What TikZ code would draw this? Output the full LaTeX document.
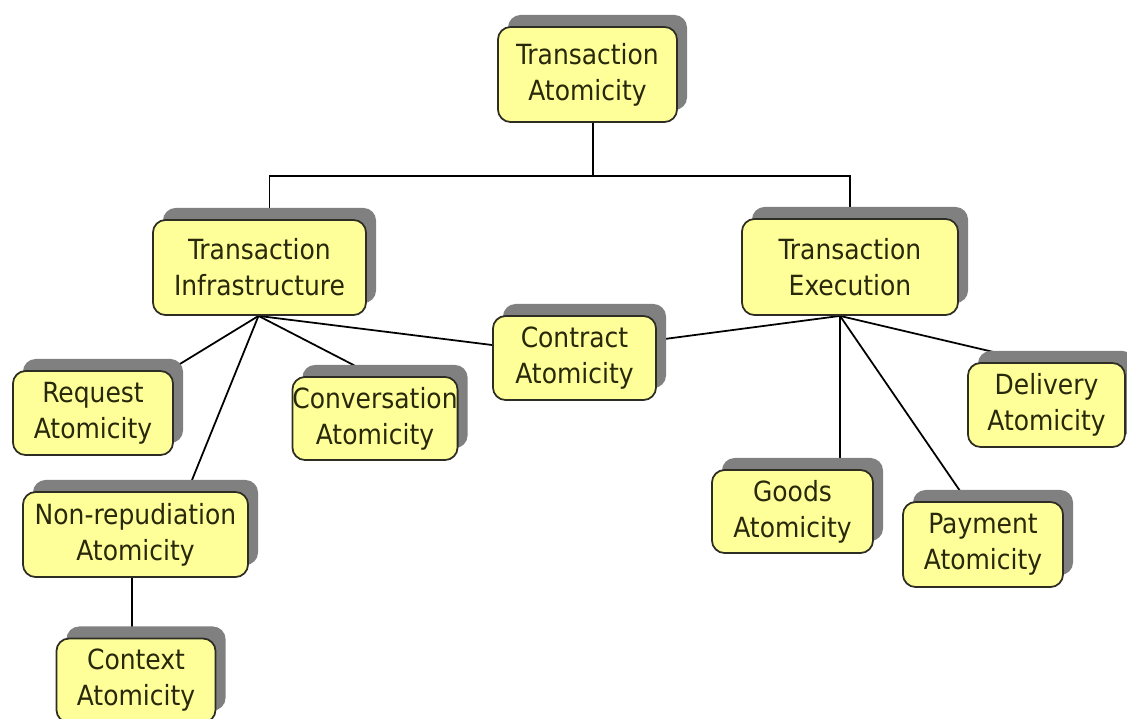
\documentclass[tikz,border=0pt]{standalone}
\usepackage{fontspec}
\newfontfamily\boxfont{DejaVu Sans Condensed}
\usetikzlibrary{shapes.misc,shadows,calc}
\pgfdeclarelayer{background}
\pgfsetlayers{background,main}
\definecolor{boxfill}{RGB}{255,255,153}
\definecolor{boxtext}{RGB}{40,40,10}
\definecolor{boxline}{RGB}{45,45,35}
\tikzset{
  abox/.style={rounded rectangle, rounded corners=3.6pt, rectangle, draw=boxline, line width=0.5pt,
    fill=boxfill, text=boxtext, align=center, inner sep=0pt,
    font=\boxfont\fontsize{7.9}{10.2}\selectfont,
    drop shadow={shadow xshift=0.1cm, shadow yshift=0.12cm, fill=black!50, opacity=1}},
  link/.style={draw=black, line width=0.5pt}
}
\begin{document}
\begin{tikzpicture}[x=0.01cm,y=-0.01cm]
\useasboundingbox (0,0) rectangle (1127,718);
\node[abox, minimum width=1.79cm, minimum height=0.95cm] (ta) at (587.5,74.5) {Transaction\\Atomicity};
\node[abox, minimum width=2.13cm, minimum height=0.95cm] (ti) at (259.5,267.5) {Transaction\\Infrastructure};
\node[abox, minimum width=2.16cm, minimum height=0.96cm] (te) at (850,267) {Transaction\\Execution};
\node[abox, minimum width=1.63cm, minimum height=0.84cm] (ca) at (574.5,358) {Contract\\Atomicity};
\node[abox, minimum width=1.60cm, minimum height=0.84cm] (ra) at (93,413) {Request\\Atomicity};
\node[abox, minimum width=1.60cm, minimum height=0.83cm] (cva) at (375,418.5) {Conversation\\Atomicity};
\node[abox, minimum width=2.25cm, minimum height=0.85cm] (nr) at (135.5,534.5) {Non-repudiation\\Atomicity};
\node[abox, minimum width=1.59cm, minimum height=0.84cm] (cxa) at (136,680.5) {Context\\Atomicity};
\node[abox, minimum width=1.61cm, minimum height=0.83cm] (ga) at (792.5,511.5) {Goods\\Atomicity};
\node[abox, minimum width=1.60cm, minimum height=0.85cm] (pa) at (983,544.5) {Payment\\Atomicity};
\node[abox, minimum width=1.57cm, minimum height=0.84cm] (da) at (1046.5,405) {Delivery\\Atomicity};
\begin{pgfonlayer}{background}
\coordinate (tafoot) at ($(ta.south)+(5.5,0)$);
\coordinate (bus) at ($(tafoot)+(0,53)$);
\coordinate (tifan) at ($(ti.south)+(-1,0)$);
\coordinate (tefan) at ($(te.south)+(-10,0)$);
\coordinate (cxtop) at ($(cxa.north)+(-4,0)$);
\draw[link] (tafoot) -- (bus);
\draw[link] (bus) -| ($(ti.north)+(10,0)$);
\draw[link] (bus) -| (te.north);
\draw[link] (tifan) -- ($(ra.north east)+(-4,0)$);
\draw[link] (tifan) -- ($(nr.north)+(52,0)$);
\draw[link] (tifan) -- (cva.north);
\draw[link] (tifan) -- ($(ca.west)+(0,-13)$);
\draw[link] (tefan) -- ($(ca.east)+(0,-18)$);
\draw[link] (tefan) -- ($(ga.north)+(47.5,0)$);
\draw[link] (tefan) -- ($(pa.north)+(-16,0)$);
\draw[link] (tefan) -- ($(da.north)+(-10,0)$);
\draw[link] (cxtop) -- (cxtop |- nr.south);
\end{pgfonlayer}
\end{tikzpicture}
\end{document}
